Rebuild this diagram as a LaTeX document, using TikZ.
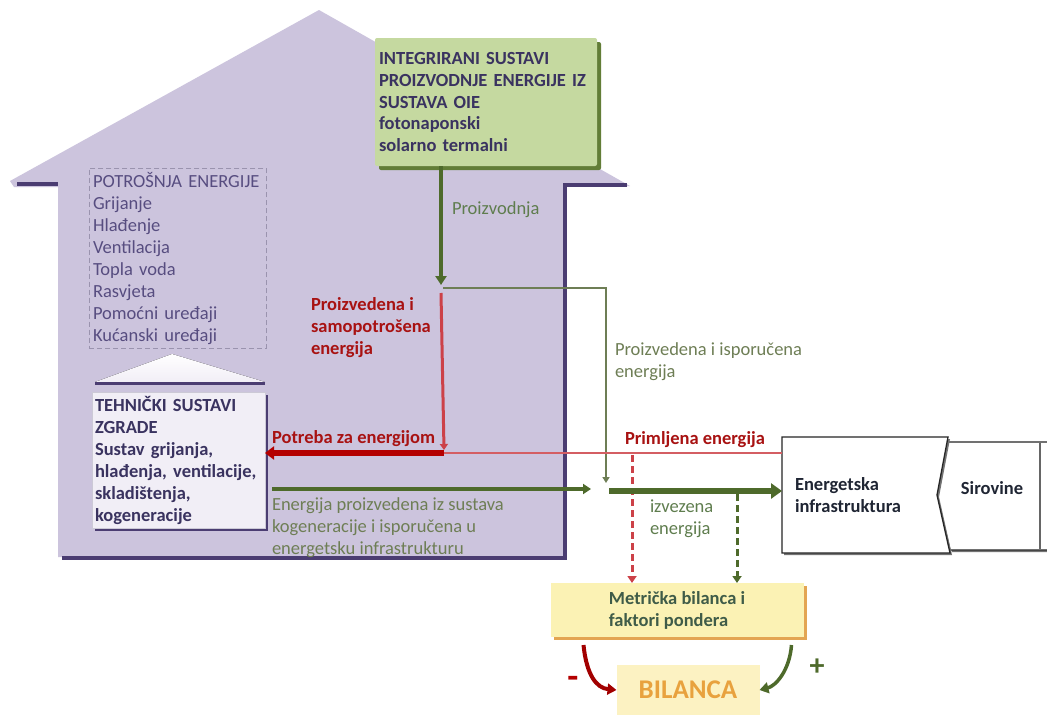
\documentclass[tikz,border=0pt]{standalone}
\usepackage{fontspec}
\setmainfont{Carlito}
\usetikzlibrary{arrows.meta,shadows}
\definecolor{housefill}{HTML}{CCC4DD}
\definecolor{housedark}{HTML}{4B3D72}
\definecolor{oiefill}{HTML}{C5D9A0}
\definecolor{oieedge}{HTML}{627D37}
\definecolor{navytext}{HTML}{3A3360}
\definecolor{listtext}{HTML}{574D80}
\definecolor{listframe}{HTML}{9A93AE}
\definecolor{tszfill}{HTML}{F1EEF6}
\definecolor{prodgreen}{HTML}{4E6A2B}
\definecolor{palegreen}{HTML}{6E7E55}
\definecolor{labgreen}{HTML}{5F7D4E}
\definecolor{darkred}{HTML}{A81212}
\definecolor{demandred}{HTML}{B40000}
\definecolor{linered}{HTML}{CC4148}
\definecolor{metfill}{HTML}{FBF2B4}
\definecolor{metedge}{HTML}{E3A552}
\definecolor{mettext}{HTML}{3F5C48}
\definecolor{bilfill}{HTML}{FCF2C2}
\definecolor{biltext}{HTML}{E8A23E}
\definecolor{infratxt}{HTML}{1F2533}

\begin{document}
\begin{tikzpicture}[x=1pt,y=-1pt]
\tikzstyle{every node}=[inner sep=0pt, outer sep=0pt, font=\fontsize{18.5}{22}\selectfont]
\tikzstyle{txt}=[align=left, anchor=north west]
\tikzstyle{darkedge}=[housedark, line width=4.5pt]
\tikzstyle{oiebox}=[txt, fill=oiefill, rounded corners=2pt, text=navytext, font=\fontsize{18.5}{22}\selectfont\bfseries,
  drop shadow={fill=oieedge, opacity=1, shadow xshift=4pt, shadow yshift=-4pt},
  text width=214pt, inner xsep=4pt, minimum height=128pt]
\tikzstyle{listbox}=[txt, draw=listframe, dash pattern=on 5pt off 3pt, line width=1pt, text=listtext,
  text width=169pt, inner xsep=4pt, inner ysep=4pt]
\tikzstyle{tszbox}=[txt, fill=tszfill, draw=listframe!50, text=navytext, font=\fontsize{18.5}{22}\selectfont\bfseries,
  drop shadow={fill=housedark, opacity=1, shadow xshift=3pt, shadow yshift=-3pt},
  text width=167pt, inner xsep=3pt, inner ysep=4pt]
\tikzstyle{metbox}=[fill=metfill, align=left, text=mettext, font=\fontsize{18.5}{22}\selectfont\bfseries,
  drop shadow={fill=metedge, opacity=1, shadow xshift=3pt, shadow yshift=-3pt},
  minimum width=253pt, minimum height=54pt]
\tikzstyle{bilbox}=[fill=bilfill, text=biltext, font=\fontsize{27}{29}\selectfont\bfseries,
  minimum width=143pt, minimum height=50pt]
\tikzstyle{infrashape}=[fill=white, draw=black!85, line width=1.3pt,
  drop shadow={fill=black!55, opacity=1, shadow xshift=2pt, shadow yshift=-2pt}]
\tikzstyle{infratext}=[align=left, text=infratxt, font=\fontsize{18.5}{22}\selectfont\bfseries]
\tikzstyle{redlabel}=[txt, text=darkred, font=\fontsize{18.5}{22}\selectfont\bfseries]
\tikzstyle{greenlabel}=[txt, text=labgreen]
\tikzstyle{palelabel}=[txt, text=palegreen]
\tikzstyle{prodarrow}=[prodgreen, line width=4pt, -{Triangle[length=9pt,width=11pt]}]
\tikzstyle{palearrow}=[palegreen, line width=1.8pt, -{Triangle[length=6pt,width=7pt]}]
\tikzstyle{selfline}=[linered, line width=3pt, -{Triangle[length=6pt,width=8pt]}]
\tikzstyle{recvline}=[linered!85, line width=2pt]
\tikzstyle{demandarrow}=[demandred, line width=6pt, -{Triangle[length=9pt,width=13pt]}]
\tikzstyle{reddash}=[linered, line width=3pt, dash pattern=on 7pt off 4pt, -{Triangle[length=7pt,width=9pt]}]
\tikzstyle{cogenarrow}=[prodgreen, line width=4pt, -{Triangle[length=8pt,width=10pt]}]
\tikzstyle{exportarrow}=[prodgreen, line width=6pt, -{Triangle[length=11pt,width=15pt]}]
\tikzstyle{greendash}=[prodgreen, line width=3pt, dash pattern=on 7pt off 4pt, -{Triangle[length=7pt,width=9pt]}]
\tikzstyle{minusarrow}=[demandred!90!black, line width=4pt, -{Triangle[length=9pt,width=11pt]}]
\tikzstyle{plusarrow}=[prodgreen, line width=3.5pt, -{Triangle[length=9pt,width=11pt]}]

\fill[white] (0,0) rectangle (1047,715);
\useasboundingbox (0,0) rectangle (1047,715);

\fill[housefill] (58,557) -- (58,187) -- (14,187) -- (10,181) -- (319,10) -- (630,186) -- (565,187) -- (565,557) -- cycle;
\draw[darkedge] (17,184) -- (58,184);
\draw[darkedge] (627,185) -- (565,185) -- (565,558) -- (62,558);

\draw (375,38) node (oie) [oiebox] {INTEGRIRANI SUSTAVI\\PROIZVODNJE ENERGIJE IZ\\SUSTAVA OIE\\fotonaponski\\solarno termalni};
\draw (89,168) node (use) [listbox] {POTROŠNJA ENERGIJE\\Grijanje\\Hlađenje\\Ventilacija\\Topla voda\\Rasvjeta\\Pomoćni uređaji\\Kućanski uređaji};
\fill[top color=white, bottom color=tszfill] (95,382) -- (172,354) -- (265,382) -- cycle;
\draw[darkedge, line width=3pt] (95,383) -- (265,383);
\draw (92,392) node (tsz) [tszbox] {TEHNIČKI SUSTAVI\\ZGRADE\\Sustav grijanja,\\hlađenja, ventilacije,\\skladištenja,\\kogeneracije};

\draw[infrashape] (946,442) -- (1050,442) -- (1050,550) -- (950,550) -- (937,495) -- cycle;
\draw[black!60, line width=2pt] (1040,443) -- (1040,549);
\draw[infrashape] (782,437) -- (948,437) -- (937,495) -- (950,553) -- (782,553) -- cycle;
\draw (782,437) node (infra) [infratext, anchor=north west, minimum width=166pt, minimum height=116pt, text width=140pt, inner xsep=13pt] {Energetska\\infrastruktura};
\draw (992,488) node (sirov) [infratext] {Sirovine};

\draw (677,610) node (bilmet) [metbox] {Metrička bilanca i\\faktori pondera};
\draw (688,690) node (bil) [bilbox] {BILANCA};

\coordinate (split) at (441,288);
\coordinate (turn) at (606,288);
\coordinate (feed) at (606,483);
\coordinate (jn) at (444,453);
\coordinate (rdash) at (632,455);
\coordinate (cogen) at (591,489);
\coordinate (exp) at (609,491);
\coordinate (gdash) at (737,494);

\draw[prodarrow] (oie.south -| split) -- ([yshift=3pt]split);
\draw[palearrow] ([xshift=2pt]split) -- (turn) -- (feed);
\draw[selfline] ([yshift=-5pt]split) -- ([yshift=3pt]jn);
\draw[recvline] (infra.west |- jn) -- (jn);
\draw[demandarrow] (jn) -- (tsz.east |- jn);
\draw[reddash] (rdash) -- (rdash |- bilmet.north);
\draw[cogenarrow, shorten <=7pt] (tsz.east |- cogen) -- (cogen);
\draw[exportarrow] (exp) -- (infra.west |- exp);
\draw[greendash] (gdash) -- (gdash |- bilmet.north);
\draw[minusarrow] ([xshift=33pt,yshift=-8pt]bilmet.south west) .. controls +(3,30) and +(-20,-2) .. (bil.west);
\draw[plusarrow] ([xshift=-12pt,yshift=-8pt]bilmet.south east) .. controls +(-2,26) and +(16,-4) .. (bil.east);

\draw (452,214) node (lprod) [greenlabel, anchor=base west] {Proizvodnja};
\draw (311,298) node (lself) [redlabel] {Proizvedena i\\samopotrošena\\energija};
\draw (272,443) node (ldemand) [redlabel, anchor=base west] {Potreba za energijom};
\draw (625,444) node (lrecv) [redlabel, anchor=base west] {Primljena energija};
\draw (615,343) node (ldeliv) [palelabel] {Proizvedena i isporučena\\energija};
\draw (650,500) node (lexp) [greenlabel] {izvezena\\energija};
\draw (272,498) node (lcogen) [palelabel] {Energija proizvedena iz sustava\\kogeneracije i isporučena u\\energetsku infrastrukturu};
\draw (573,682) node (lminus) [text=demandred, font=\fontsize{36}{36}\selectfont\bfseries] {-};
\draw (817,667) node (lplus) [text=prodgreen, font=\fontsize{30}{30}\selectfont\bfseries] {+};
\end{tikzpicture}
\end{document}
